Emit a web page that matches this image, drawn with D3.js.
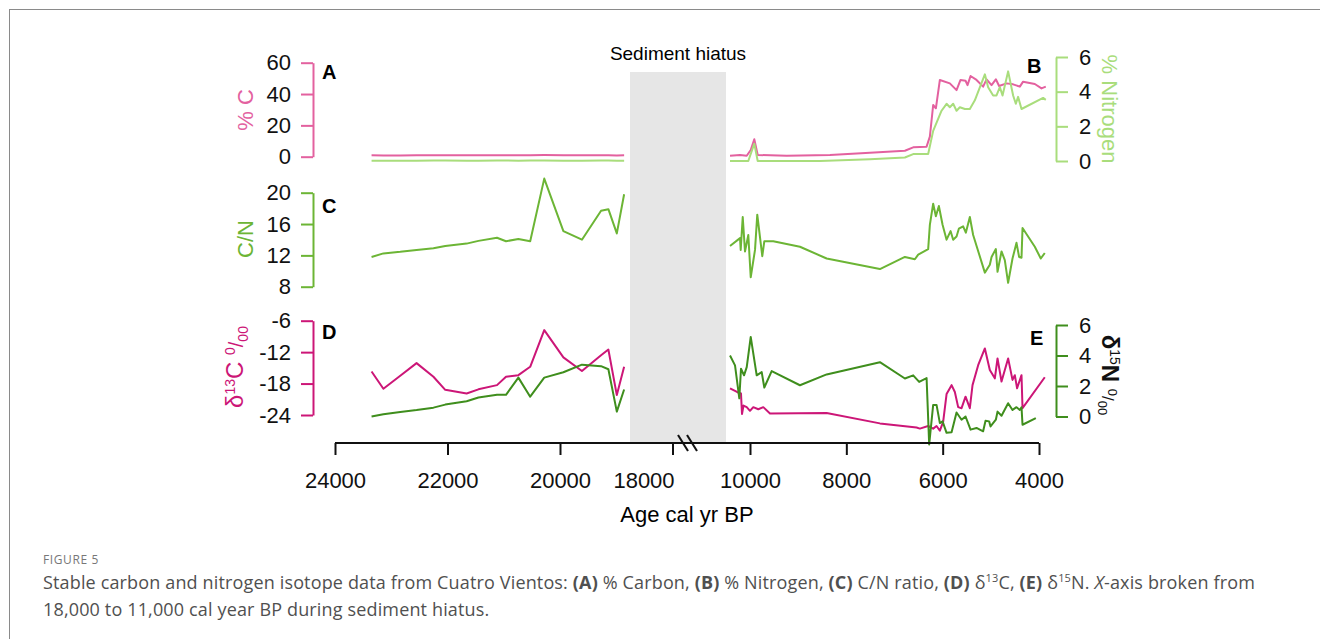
<!DOCTYPE html>
<html>
<head>
  <meta charset="utf-8">
  <script type="text/javascript" src="https://cdn.jsdelivr.net/npm/d3@7"></script>
  <style>
    body { margin: 0; background: #fff; }
    #frame { position: absolute; left: 9px; top: 9px; width: 1400px; height: 700px;
             border-left: 1.5px solid #8a8a8a; border-top: 1.5px solid #8a8a8a; }
    #chart { position: absolute; left: 0; top: 0; }
    .figlabel { position: absolute; left: 43px; top: 551px; font: 12px "Open Sans", sans-serif;
                color: #777; letter-spacing: 0.6px; }
    .caption { position: absolute; left: 43px; top: 569px; font: 18px "Open Sans", sans-serif;
               color: #505050; line-height: 27px; white-space: nowrap; letter-spacing: 0.15px; }
    .caption sup { font-size: 11px; line-height: 0; }
  </style>
</head>
<body>
  <div id="frame"></div>
  <div id="chart"></div>
  <div class="figlabel">FIGURE 5</div>
  <div class="caption">Stable carbon and nitrogen isotope data from Cuatro Vientos: <b>(A)</b> % Carbon, <b>(B)</b> % Nitrogen, <b>(C)</b> C/N ratio, <b>(D)</b> δ<sup>13</sup>C, <b>(E)</b> δ<sup>15</sup>N. <i>X</i>-axis broken from<br>18,000 to 11,000 cal year BP during sediment hiatus.</div>

<script>
// ---- data: older section (before the hiatus), same sample ages for every series
var leftAge      = [23350, 23140, 22840, 22550, 22250, 22040, 21660, 21450, 21120, 20960, 20740, 20530, 20280, 19940, 19610, 19270, 19140, 18990, 18860];
var carbonLeft   = [0.9, 0.8, 0.8, 0.9, 0.9, 1.0, 0.9, 0.9, 1.0, 1.0, 0.9, 1.0, 1.1, 1.0, 0.9, 1.0, 1.0, 0.8, 0.9];
var nitrogenLeft = [0.02, 0.02, 0.02, 0.02, 0.03, 0.03, 0.02, 0.02, 0.03, 0.03, 0.02, 0.03, 0.03, 0.02, 0.02, 0.03, 0.03, 0.02, 0.02];
var cnLeft       = [11.8, 12.25, 12.45, 12.7, 12.9, 13.2, 13.5, 13.85, 14.25, 13.8, 14.1, 13.8, 21.8, 15.1, 14.0, 17.7, 17.9, 14.8, 19.8];
var d13cLeft     = [-15.7, -19.0, -16.5, -14.1, -16.7, -19.2, -19.9, -19.1, -18.3, -16.7, -16.4, -14.8, -7.8, -13.0, -15.6, -12.6, -11.5, -20.2, -14.8];
var d15nLeft     = [0.0, 0.15, 0.3, 0.42, 0.58, 0.78, 1.0, 1.25, 1.42, 1.42, 2.55, 1.3, 2.55, 2.9, 3.4, 3.3, 3.1, 0.32, 1.77];

// ---- data: younger section (after the hiatus)
var carbonRightAge = [10415, 10207, 10068, 9985, 9911, 9840, 9239, 8340, 7510, 6784, 6612, 6334, 6266, 6197, 6141, 6058, 5851, 5712, 5629, 5525, 5484, 5421, 5297, 5160, 5089, 4985, 4896, 4828, 4674, 4537, 4398, 4330, 4087, 3948, 3859];
var carbonRight    = [0.6, 1.1, 0.6, 4.3, 11.1, 1.1, 0.6, 1.1, 2.6, 3.8, 6.0, 6.4, 12.8, 33.0, 30.9, 49.0, 46.8, 42.5, 49.0, 48.5, 45.7, 51.5, 49.0, 44.7, 49.4, 45.7, 49.4, 45.1, 46.8, 46.2, 44.7, 47.9, 46.4, 43.6, 44.7];

var nitrogenRightAge = [10415, 10035, 9911, 9840, 8548, 7510, 6784, 6612, 6301, 6197, 6023, 5919, 5851, 5782, 5712, 5643, 5539, 5436, 5332, 5124, 5056, 4952, 4882, 4813, 4757, 4641, 4537, 4481, 4434, 4363, 3915, 3859];
var nitrogenRight    = [0.0, 0.0, 1.0, 0.0, 0.0, 0.1, 0.2, 0.4, 0.4, 1.74, 2.9, 3.3, 3.1, 3.3, 2.9, 3.1, 3.0, 3.0, 3.5, 5.0, 4.26, 3.78, 3.78, 4.26, 3.78, 5.17, 3.78, 3.3, 3.7, 3.0, 3.64, 3.53];

var cnRightAge = [10415, 10207, 10193, 10151, 10104, 10035, 9985, 9896, 9849, 9745, 9703, 9517, 8963, 8409, 7303, 6784, 6577, 6508, 6301, 6266, 6197, 6141, 6079, 6002, 5919, 5836, 5782, 5712, 5664, 5575, 5519, 5436, 5367, 5124, 5021, 4985, 4896, 4861, 4778, 4710, 4641, 4550, 4467, 4413, 4363, 4342, 4087, 3963, 3880];
var cnRight    = [13.2, 14.2, 12.7, 16.9, 12.5, 14.6, 9.2, 12.7, 17.2, 11.9, 13.8, 13.8, 13.1, 11.6, 10.25, 11.8, 11.5, 12.1, 12.8, 15.9, 18.6, 17.0, 18.3, 15.9, 14.0, 15.1, 14.0, 14.4, 15.4, 15.7, 14.9, 16.9, 14.6, 9.8, 10.8, 11.8, 12.8, 9.9, 12.5, 11.4, 8.5, 11.6, 13.6, 11.8, 11.7, 15.5, 13.1, 11.6, 12.3];

var d13cRightAge = [10415, 10270, 10187, 10166, 10135, 10068, 10000, 9932, 9828, 9724, 9585, 8409, 7303, 6542, 6473, 6301, 6197, 6127, 6058, 5990, 5919, 5815, 5747, 5678, 5608, 5525, 5436, 5380, 5263, 5124, 5021, 4917, 4861, 4778, 4641, 4550, 4502, 4455, 4363, 4342, 3880];
var d13cRight    = [-18.9, -19.6, -19.9, -23.8, -22.2, -22.5, -23.2, -22.5, -22.9, -22.5, -23.7, -23.6, -25.6, -26.4, -26.6, -26.1, -26.6, -26.1, -27.0, -25.3, -20.0, -18.3, -19.6, -22.5, -22.7, -20.5, -22.7, -18.3, -14.5, -11.3, -15.4, -17.0, -13.2, -17.6, -13.2, -17.3, -16.4, -18.9, -16.4, -22.7, -16.8];

var d15nRightAge = [10415, 10311, 10222, 10187, 10124, 10068, 9985, 9861, 9757, 9703, 9550, 8963, 8409, 7303, 6784, 6612, 6488, 6334, 6280, 6197, 6127, 6058, 6002, 5919, 5815, 5712, 5608, 5525, 5421, 5297, 5160, 5110, 5035, 5006, 4896, 4861, 4778, 4641, 4550, 4467, 4398, 4363, 4342, 4066];
var d15nRight    = [4.0, 3.35, 1.19, 3.13, 2.7, 3.24, 5.22, 2.7, 2.91, 1.9, 2.98, 2.05, 2.76, 3.56, 2.49, 2.7, 2.27, 2.52, -1.83, 0.76, 0.76, -0.43, -0.32, -1.07, -1.03, 0.26, -0.21, 0.0, -0.86, -0.75, -0.97, -0.28, -0.32, -0.65, -0.21, 0.32, 0.05, 0.87, 0.43, 0.61, 0.43, 0.61, -0.54, -0.1];

// tick labels
var xTicksLeft  = [24000, 22000, 20000, 18000];
var xTicksRight = [10000, 8000, 6000, 4000];
var carbonTicks = [0, 20, 40, 60];
var nitroTicks  = [0, 2, 4, 6];
var cnTicks     = [8, 12, 16, 20];
var d13cTicks   = [-24, -18, -12, -6];
var d15nTicks   = [0, 2, 4, 6];

// colours
var cCarbon = "#e3619f", cNitro = "#a9dd7c", cCN = "#6cb535", cD13 = "#cc1677", cD15 = "#3f8e1d";
var font = "'Liberation Sans', Arial, sans-serif";
var plain = function(d) { return String(d); };   // keep ascii hyphen for negatives

var svg = d3.select("#chart")
  .append("svg")
    .attr("width", 1320)
    .attr("height", 550);

// broken x axis: two scales
var xLeft = d3.scaleLinear().domain([24000, 18000]).range([335, 672.5]);
var xRight = d3.scaleLinear().domain([10000, 4000]).range([750, 1039]);
var axisY = 443;

// y scales for each panel
var yCarbon = d3.scaleLinear().domain([0, 60]).range([156.7, 62.7]);
var yNitro  = d3.scaleLinear().domain([0, 6]).range([161, 57]);
var yCN     = d3.scaleLinear().domain([8, 20]).range([286.7, 192.7]);
var yD13    = d3.scaleLinear().domain([-24, -6]).range([415, 320.7]);
var yD15    = d3.scaleLinear().domain([0, 6]).range([416.5, 325]);

// hiatus band
svg.append("rect")
  .attr("x", 630).attr("y", 72)
  .attr("width", 96).attr("height", axisY - 72)
  .style("fill", "#e6e6e6");

svg.append("text")
  .attr("x", 678).attr("y", 60)
  .attr("text-anchor", "middle")
  .style("font", "19px " + font)
  .text("Sediment hiatus");

// helper to draw a y axis
function yAxis(scale, ticks, side, color) {
  var ax = side == "left" ? d3.axisLeft(scale) : d3.axisRight(scale);
  ax.tickValues(ticks).tickFormat(plain).tickSizeInner(12).tickSizeOuter(0).tickPadding(side == "left" ? 10 : 11);
  var g = svg.append("g")
    .attr("transform", "translate(" + (side == "left" ? 313 : 1056) + ",0)")
    .call(ax);
  g.selectAll("path, line").attr("stroke", color).attr("stroke-width", 2);
  g.selectAll("text").style("font", "22px " + font).attr("fill", "#111");
}

yAxis(yCarbon, carbonTicks, "left", cCarbon);
yAxis(yCN, cnTicks, "left", cCN);
yAxis(yD13, d13cTicks, "left", cD13);
yAxis(yNitro, nitroTicks, "right", cNitro);
yAxis(yD15, d15nTicks, "right", cD15);

// series lines
function series(ages, vals, xs, ys, color) {
  var pts = ages.map(function(a, i) { return [a, vals[i]]; });
  svg.append("path")
    .datum(pts)
    .attr("d", d3.line()
      .x(function(d) { return xs(d[0]); })
      .y(function(d) { return ys(d[1]); }))
    .attr("fill", "none")
    .attr("stroke", color)
    .attr("stroke-width", 2)
    .attr("stroke-linejoin", "round");
}

series(leftAge, carbonLeft, xLeft, yCarbon, cCarbon);
series(carbonRightAge, carbonRight, xRight, yCarbon, cCarbon);
series(leftAge, nitrogenLeft, xLeft, yNitro, cNitro);
series(nitrogenRightAge, nitrogenRight, xRight, yNitro, cNitro);

series(leftAge, cnLeft, xLeft, yCN, cCN);
series(cnRightAge, cnRight, xRight, yCN, cCN);

series(leftAge, d13cLeft, xLeft, yD13, cD13);
series(d13cRightAge, d13cRight, xRight, yD13, cD13);
series(leftAge, d15nLeft, xLeft, yD15, cD15);
series(d15nRightAge, d15nRight, xRight, yD15, cD15);

// x axis
svg.append("line")
  .attr("x1", xLeft(24000)).attr("x2", xRight(4000))
  .attr("y1", axisY).attr("y2", axisY)
  .attr("stroke", "#111").attr("stroke-width", 2);

function xAxis(scale, ticks) {
  var g = svg.append("g")
    .attr("transform", "translate(0," + axisY + ")")
    .call(d3.axisBottom(scale).tickValues(ticks).tickFormat(plain)
      .tickSizeInner(12).tickSizeOuter(0).tickPadding(17));
  g.select(".domain").remove();
  g.selectAll("line").attr("stroke", "#111").attr("stroke-width", 2);
  g.selectAll("text").style("font", "22px " + font).attr("fill", "#111");
  return g;
}
var gl = xAxis(xLeft, xTicksLeft);
xAxis(xRight, xTicksRight);
// the 18000 label sits left of its tick, clear of the break
gl.selectAll(".tick").filter(function(d) { return d == 18000; }).select("text").attr("x", -29);

// break marks
[678, 687].forEach(function(bx) {
  svg.append("line")
    .attr("x1", bx).attr("y1", axisY - 8)
    .attr("x2", bx + 10).attr("y2", axisY + 8)
    .attr("stroke", "#111").attr("stroke-width", 2);
});

svg.append("text")
  .attr("x", 687).attr("y", 522)
  .attr("text-anchor", "middle")
  .style("font", "22px " + font)
  .text("Age cal yr BP");

// panel letters
var letters = [["A", 322, 79], ["C", 322, 213], ["D", 322, 339], ["B", 1027, 73], ["E", 1030, 345]];
letters.forEach(function(l) {
  svg.append("text")
    .attr("x", l[1]).attr("y", l[2])
    .style("font", "bold 20px " + font)
    .text(l[0]);
});

// y axis titles
svg.append("text")
  .attr("transform", "translate(253,110) rotate(-90)")
  .attr("text-anchor", "middle")
  .style("font", "22px " + font).attr("fill", cCarbon)
  .text("% C");

svg.append("text")
  .attr("transform", "translate(253,239) rotate(-90)")
  .attr("text-anchor", "middle")
  .style("font", "22px " + font).attr("fill", cCN)
  .text("C/N");

var t13 = svg.append("text")
  .attr("transform", "translate(243,367) rotate(-90)")
  .attr("text-anchor", "middle")
  .style("font", "24px " + font).attr("fill", cD13);
t13.append("tspan").text("δ");
t13.append("tspan").attr("dy", -8).style("font-size", "14px").text("13");
t13.append("tspan").attr("dy", 8).text("C ");
t13.append("tspan").attr("dy", -8).style("font-size", "14px").text("0");
t13.append("tspan").attr("dy", 8).style("font-size", "20px").text("/");
t13.append("tspan").attr("dy", 5).style("font-size", "14px").text("00");

svg.append("text")
  .attr("transform", "translate(1102,109) rotate(90)")
  .attr("text-anchor", "middle")
  .style("font", "22px " + font).attr("fill", cNitro)
  .text("% Nitrogen");

var t15 = svg.append("text")
  .attr("transform", "translate(1102,375) rotate(90)")
  .attr("text-anchor", "middle")
  .style("font", "bold 24px " + font).attr("fill", "#111");
t15.append("tspan").text("δ");
t15.append("tspan").attr("dy", -8).style("font-size", "14px").style("font-weight", "normal").text("15");
t15.append("tspan").attr("dy", 8).text("N ");
t15.append("tspan").attr("dy", -6).style("font-size", "13px").style("font-weight", "normal").text("0");
t15.append("tspan").attr("dy", 6).style("font-size", "17px").style("font-weight", "normal").text("/");
t15.append("tspan").attr("dy", 4).style("font-size", "13px").style("font-weight", "normal").text("00");
</script>
</body>
</html>
